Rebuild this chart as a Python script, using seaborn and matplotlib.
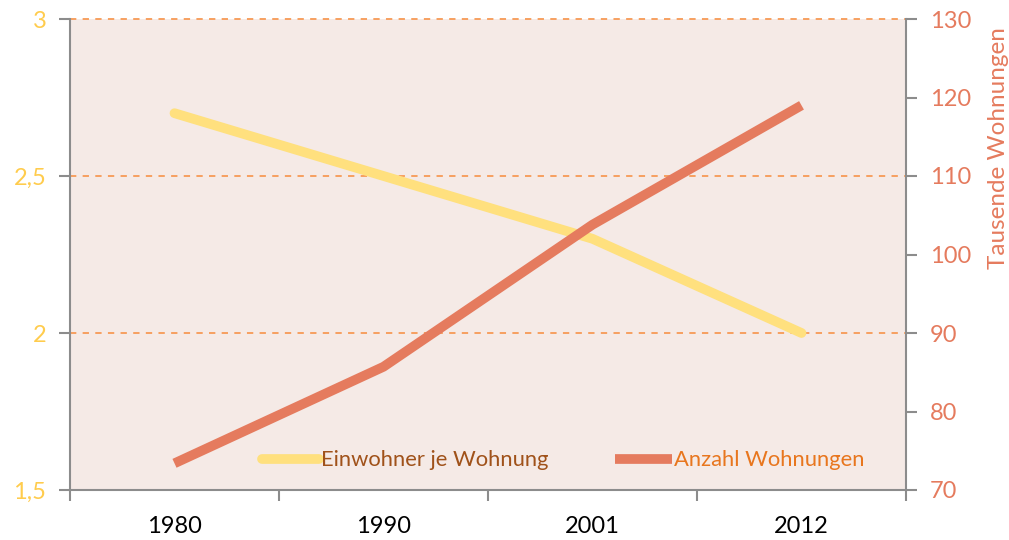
import matplotlib
matplotlib.use("Agg")
import matplotlib.pyplot as plt
import seaborn as sns
import pandas as pd
from matplotlib.lines import Line2D

# data
years = ["1980", "1990", "2001", "2012"]
einwohner_je_wohnung = [2.7, 2.5, 2.3, 2.0]
anzahl_wohnungen = [73.4, 85.7, 103.8, 119.0]  # thousands

left_ticks = [1.5, 2, 2.5, 3]
left_labels = ["1,5", "2", "2,5", "3"]
right_ticks = [70, 80, 90, 100, 110, 120, 130]

yellow = "#FFE07E"
salmon = "#E57B5E"
grid_orange = "#F79A55"
spine_gray = "#8C8C8C"
bg = "#F5EAE6"

sns.set_theme(style="white")
plt.rcParams["font.family"] = ["Lato", "DejaVu Sans"]

df = pd.DataFrame({
    "pos": range(len(years)),
    "ewj": einwohner_je_wohnung,
    "anz": anzahl_wohnungen,
})

fig = plt.figure(figsize=(10.09, 5.4), dpi=100)
ax = fig.add_axes([70 / 1009, 50 / 540, 836 / 1009, 471 / 540])
ax.set_facecolor(bg)

sns.lineplot(data=df, x="pos", y="ewj", ax=ax, color=yellow, linewidth=7,
             solid_capstyle="round", zorder=3)
ax.set_ylim(1.5, 3)
ax.set_xlim(-0.5, len(years) - 0.5)

for t in [2, 2.5, 3]:
    ax.axhline(t, color=grid_orange, linestyle=(0, (3.5, 3.5)), linewidth=1.3,
               zorder=1, clip_on=False)

ax2 = ax.twinx()
sns.lineplot(data=df, x="pos", y="anz", ax=ax2, color=salmon, linewidth=7,
             solid_capstyle="butt", zorder=4)
ax2.set_ylim(70, 130)

# axis ticks / labels
ax.set_yticks(left_ticks)
ax.set_yticklabels(left_labels)
ax.tick_params(axis="y", colors=spine_gray, labelcolor="#FFCC4D", labelsize=17,
               direction="out", length=8, width=1.5, left=True, pad=9)
ax2.set_yticks(right_ticks)
ax2.tick_params(axis="y", colors=spine_gray, labelcolor=salmon, labelsize=17,
                direction="out", length=8, width=1.5, right=True, pad=9)
ax2.set_ylabel("Tausende Wohnungen", color=salmon, fontsize=17.5, labelpad=12,
               y=0.726)
ax.set_ylabel("")
ax.set_xlabel("")
ax2.set_xlabel("")

bounds = [i - 0.5 for i in range(len(years) + 1)]
ax.set_xticks(bounds)
ax.set_xticklabels([""] * len(bounds))
ax.set_xticks(range(len(years)), minor=True)
ax.set_xticklabels(years, minor=True)
ax.tick_params(axis="x", which="major", colors=spine_gray, direction="out",
               length=8, width=1.5, bottom=True)
ax.tick_params(axis="x", which="minor", length=0, labelsize=17,
               labelcolor="black", pad=19)

for a in (ax, ax2):
    a.spines["top"].set_visible(False)
    for side in ("left", "right", "bottom"):
        a.spines[side].set_color(spine_gray)
        a.spines[side].set_linewidth(1.5)
ax.spines["right"].set_visible(False)
ax2.spines["left"].set_visible(False)
ax2.spines["bottom"].set_visible(False)
ax.grid(False)
ax2.grid(False)

handles = [
    Line2D([0], [0], color=yellow, linewidth=7, solid_capstyle="round"),
    Line2D([0], [0], color=salmon, linewidth=7, solid_capstyle="butt"),
]
leg = ax2.legend(handles, ["Einwohner je Wohnung", "Anzahl Wohnungen"],
                 loc="lower left", bbox_to_anchor=(0.206, 0.0), ncol=2,
                 frameon=False, fontsize=15.8, handlelength=2.6,
                 handletextpad=0.1, columnspacing=3.0)
leg.get_texts()[0].set_color("#A0521A")
leg.get_texts()[1].set_color("#E8761E")

fig.savefig("out.png", dpi=100)
